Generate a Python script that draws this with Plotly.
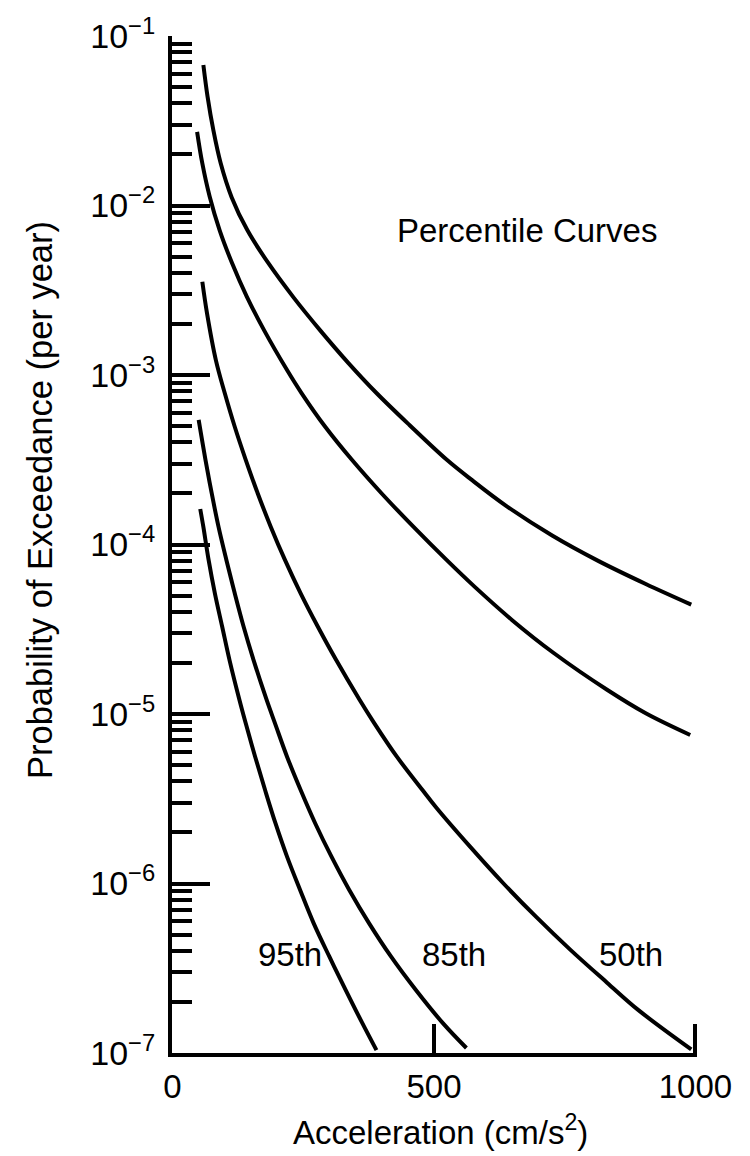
import plotly.graph_objects as go

# ---- data ----
accel_5 = [59, 67, 78, 92, 113, 143, 183, 231, 282, 336, 390, 453, 524, 571, 638, 726, 815, 905, 992]
prob_5 = [6.75e-2, 4.39e-2, 2.79e-2, 1.78e-2, 1.12e-2, 7.16e-3, 4.58e-3, 2.88e-3, 1.84e-3, 1.18e-3,
          7.83e-4, 5.07e-4, 3.17e-4, 2.42e-4, 1.69e-4, 1.13e-4, 7.98e-5, 5.85e-5, 4.42e-5]

accel_15 = [47, 57, 71, 90, 114, 142, 175, 219, 247, 292, 343, 400, 461, 524, 577, 649, 729, 831, 905, 990]
prob_15 = [2.72e-2, 1.77e-2, 1.13e-2, 7.16e-3, 4.56e-3, 2.90e-3, 1.84e-3, 1.07e-3, 7.80e-4, 4.95e-4,
           3.16e-4, 2.00e-4, 1.27e-4, 8.11e-5, 5.66e-5, 3.59e-5, 2.29e-5, 1.39e-5, 1.01e-5, 7.52e-6]

accel_50 = [57, 66, 83, 100, 119, 140, 163, 188, 215, 245, 278, 313, 358, 386, 429, 478, 505, 569,
            633, 695, 761, 831, 891, 992]
prob_50 = [3.55e-3, 2.31e-3, 1.22e-3, 7.80e-4, 4.95e-4, 3.16e-4, 2.00e-4, 1.27e-4, 8.11e-5, 5.15e-5,
           3.27e-5, 2.08e-5, 1.21e-5, 8.81e-6, 5.60e-6, 3.56e-6, 2.79e-6, 1.65e-6, 1.00e-6, 6.37e-7,
           4.06e-7, 2.60e-7, 1.79e-7, 1.05e-7]

accel_85 = [50, 63, 75, 88, 103, 119, 136, 155, 180, 196, 219, 245, 273, 304, 338, 376, 418, 465, 517, 562]
prob_85 = [5.43e-4, 3.16e-4, 2.00e-4, 1.27e-4, 8.11e-5, 5.15e-5, 3.27e-5, 2.08e-5, 1.21e-5, 8.81e-6,
           5.60e-6, 3.56e-6, 2.26e-6, 1.44e-6, 9.16e-7, 5.82e-7, 3.70e-7, 2.36e-7, 1.50e-7, 1.07e-7]

accel_95 = [53, 59, 69, 81, 95, 109, 128, 140, 158, 177, 197, 219, 244, 270, 300, 331, 363, 390]
prob_95 = [1.62e-4, 1.27e-4, 8.11e-5, 5.15e-5, 3.27e-5, 2.08e-5, 1.21e-5, 8.81e-6, 5.60e-6, 3.56e-6,
           2.26e-6, 1.44e-6, 9.16e-7, 5.82e-7, 3.70e-7, 2.36e-7, 1.50e-7, 1.04e-7]

curve_names = ["5th", "15th", "50th", "85th", "95th"]
x_ticks = [0, 500, 1000]
y_exponents = [-7, -6, -5, -4, -3, -2, -1]
y_tick_text = ["10<sup>\u2212%d</sup>" % (-e) for e in y_exponents]

FONT = "Liberation Sans, Arial, Helvetica, sans-serif"

fig = go.Figure()
for name, xs, ys in zip(curve_names,
                        [accel_5, accel_15, accel_50, accel_85, accel_95],
                        [prob_5, prob_15, prob_50, prob_85, prob_95]):
    fig.add_trace(go.Scatter(x=xs, y=ys, mode="lines", name=name,
                             line=dict(color="black", width=4, shape="spline", smoothing=1.0)))

minor_vals = [k * 10.0 ** e for e in y_exponents[:-1] for k in range(2, 10)]

fig.update_xaxes(range=[-1, 1003], showline=True, linewidth=3.5, linecolor="black",
                 ticks="inside", ticklen=29, tickwidth=3.5, tickcolor="black",
                 tickvals=x_ticks, ticktext=[str(v) for v in x_ticks],
                 showgrid=False, zeroline=False, ticklabelstandoff=2,
                 tickfont=dict(size=33, family=FONT, color="black"))

fig.update_yaxes(type="log", range=[-7, -1], showline=True, linewidth=4, linecolor="black",
                 ticks="inside", ticklen=38, tickwidth=3.5, tickcolor="black",
                 tickvals=[10.0 ** e for e in y_exponents], ticktext=y_tick_text,
                 minor=dict(tickvals=minor_vals, ticks="inside", ticklen=20, tickwidth=3.5,
                            tickcolor="black", showgrid=False),
                 showgrid=False, zeroline=False, ticklabelstandoff=6,
                 tickfont=dict(size=34, family=FONT, color="black"))

# axis titles
fig.add_annotation(xref="paper", yref="paper", x=(440 - 172) / 525, y=-(1130 - 1053) / 1017,
                   text="Acceleration (cm/s<sup>2</sup>)", showarrow=False,
                   xanchor="center", yanchor="middle",
                   font=dict(size=33, family=FONT, color="black"))
fig.add_annotation(xref="paper", yref="paper", x=(40 - 172) / 525, y=(1053 - 500) / 1017,
                   text="Probability of Exceedance (per year)", showarrow=False, textangle=-90,
                   xanchor="center", yanchor="middle",
                   font=dict(size=34.5, family=FONT, color="black"))

labels = [("Percentile Curves", 678, -2.15),
          ("5th", 1011, -4.12),
          ("15th", 1032, -4.93),
          ("95th", 225, -6.42),
          ("85th", 539, -6.42),
          ("50th", 876, -6.42)]
for text, lx, ly in labels:
    fig.add_annotation(x=lx, y=ly, text=text, showarrow=False, xanchor="center", yanchor="middle",
                       font=dict(size=33, family=FONT, color="black"))

fig.update_layout(width=750, height=1156, margin=dict(l=172, r=53, t=36, b=103),
                  plot_bgcolor="white", paper_bgcolor="white", showlegend=False,
                  font=dict(family=FONT, size=33, color="black"))

fig.write_html("out.html")
